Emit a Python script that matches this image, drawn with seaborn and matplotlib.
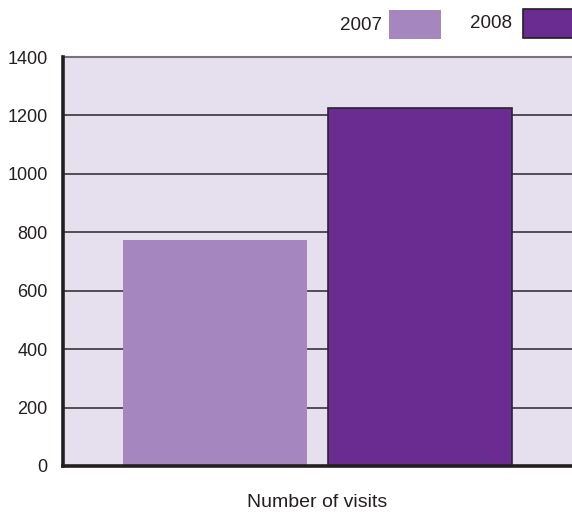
import matplotlib
matplotlib.use("Agg")
import matplotlib.pyplot as plt
import seaborn as sns
import pandas as pd
from matplotlib.patches import Rectangle

category = ["Number of visits"]
years = ["2007", "2008"]
visits = [775, 1225]
yticks = [0, 200, 400, 600, 800, 1000, 1200, 1400]
colors = {"2007": "#a586be", "2008": "#6a2c91"}

df = pd.DataFrame({"cat": category * len(years), "year": years, "visits": visits})

sns.set_theme(style="white")
plt.rcParams["font.family"] = ["Liberation Sans", "DejaVu Sans"]

fig = plt.figure(figsize=(5.72, 5.13), dpi=100)
W, H = 572, 513
ax = fig.add_axes([63 / W, (H - 466) / H, (572 - 63) / W, (466 - 57) / H])
ax.set_facecolor("#e6e0ee")

sns.barplot(data=df, x="cat", y="visits", hue="year", palette=colors,
            width=0.805, gap=0.10, dodge=True, ax=ax, legend=False,
            saturation=1, zorder=3)

for p, yr in zip(ax.patches, years):
    if yr == "2008":
        p.set_edgecolor("#2b2430")
        p.set_linewidth(1.2)
    else:
        p.set_edgecolor("none")
        p.set_linewidth(0)

ax.set_xlim(-0.5, 0.5)
ax.set_ylim(0, 1400)
ax.set_yticks(yticks)
ax.set_yticklabels([str(t) for t in yticks], fontsize=13, color="#231f20")
ax.tick_params(axis="y", length=0, pad=11)
ax.set_xticks([])
ax.set_xlabel("Number of visits", fontsize=14, color="#231f20", labelpad=20)
ax.set_ylabel("")

for t in yticks[1:-1]:
    ax.axhline(t, color="#2b2430", lw=1.1, zorder=1)

for side in ["left", "bottom"]:
    ax.spines[side].set_color("#231f20")
    ax.spines[side].set_linewidth(2.6)
    ax.spines[side].set_zorder(5)
ax.spines["top"].set_color("#7a7280")
ax.spines["top"].set_linewidth(1.5)
ax.spines["right"].set_visible(False)

# legend (text + swatch, placed in figure pixels)
leg_items = [("2007", 382, 389, 52, 10, "none"), ("2008", 512, 523, 50, 9, "#231f20")]
for yr, tx, sx, sw, sy, ec in leg_items:
    fig.text(tx / W, 1 - (sy + 15) / H, yr, ha="right", va="center",
             fontsize=13.5, color="#231f20")
    fig.patches.append(Rectangle((sx / W, 1 - (sy + 29) / H), sw / W, 29 / H,
                                 transform=fig.transFigure, facecolor=colors[yr],
                                 edgecolor=ec, linewidth=1.2 if ec != "none" else 0))

fig.savefig("out.png", dpi=100)
